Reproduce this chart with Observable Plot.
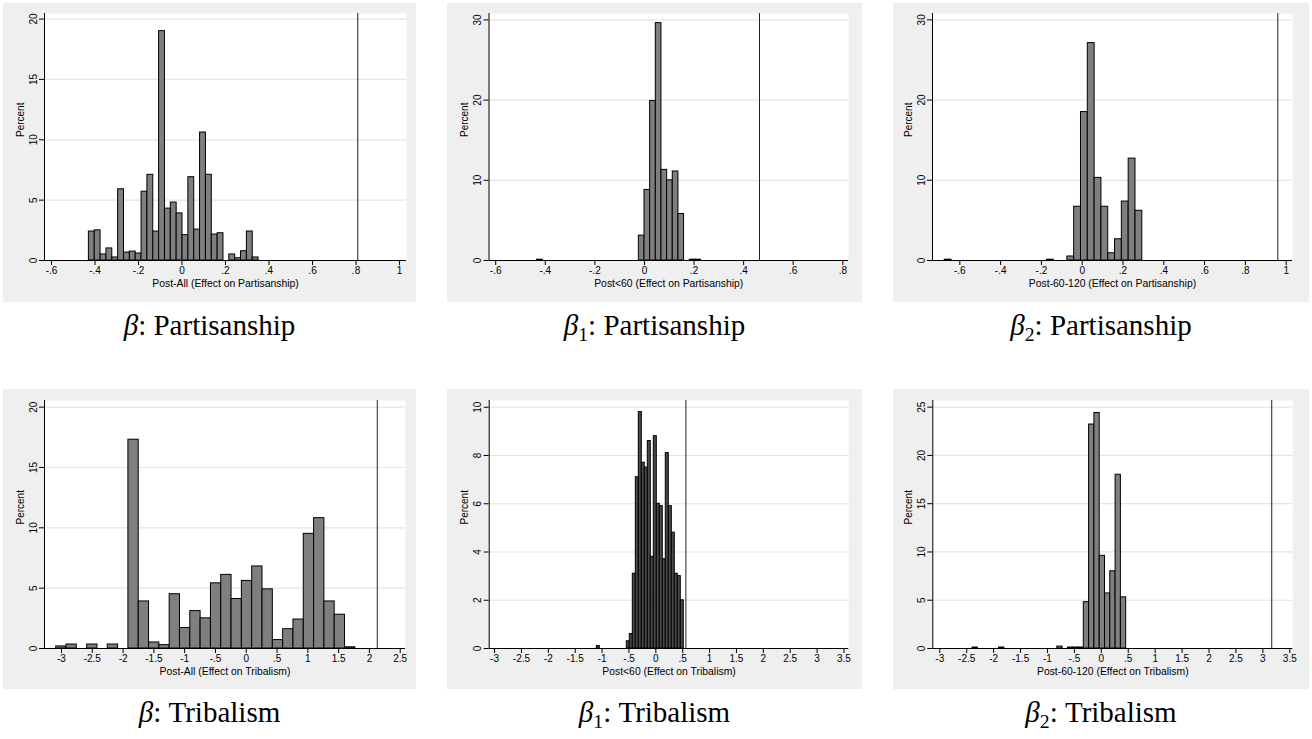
<!DOCTYPE html>
<html><head><meta charset="utf-8">
<script src="https://cdn.jsdelivr.net/npm/d3@7"></script>
<script src="https://cdn.jsdelivr.net/npm/@observablehq/plot@0.6"></script>
<style>
html,body{margin:0;padding:0;background:#fff}
body{width:1312px;height:739px;position:relative;overflow:hidden;font-family:"Liberation Sans",Arial,sans-serif}
.panel{position:absolute}
.cap{position:absolute;text-align:center;font-family:"Liberation Serif",serif;font-size:29px;line-height:36px;height:36px;color:#000;white-space:nowrap}
.cap sub{font-size:0.68em;vertical-align:-0.28em;line-height:0}
</style></head><body>
<script>
// ---------- Data (percent per histogram bin) ----------
// Panel 1: Post-All (Effect on Partisanship)
const p1Start = -0.428, p1Bin = 0.0269;
const p1Pct = [2.4, 2.5, 0.5, 1.0, 0.25, 5.9, 0.66, 0.74, 0.58, 5.7, 7.1, 2.4, 19.0, 4.3, 4.8,
               3.9, 2.1, 6.9, 2.56, 10.6, 7.1, 2.15, 2.26, 0, 0.5, 0.19, 0.77, 2.4, 0.25];
const p1Line = 0.808;
// Panel 2: Post<60 (Effect on Partisanship)
const p2Start = -0.433, p2Bin = 0.0228;
const p2Pct = [0.1, 0, 0, 0, 0, 0, 0, 0, 0, 0, 0, 0, 0, 0, 0, 0, 0, 0,
               3.1, 8.8, 19.9, 29.6, 11.3, 10.0, 11.1, 5.8, 0, 0.1, 0.1];
const p2Line = 0.464;
// Panel 3: Post-60-120 (Effect on Partisanship)
const p3Start = -0.674, p3Bin = 0.0334;
const p3Pct = [0.1, 0, 0, 0, 0, 0, 0, 0, 0, 0, 0, 0, 0, 0, 0, 0.1, 0, 0,
               0.5, 6.7, 18.5, 27.1, 10.3, 6.7, 0.9, 2.65, 7.35, 12.7, 6.2];
const p3Line = 0.959;
// Panel 4: Post-All (Effect on Tribalism)
const p4Start = -3.086, p4Bin = 0.1675;
const p4Pct = [0.17, 0.33, 0, 0.33, 0, 0.33, 0, 17.3, 3.9, 0.5, 0.28, 4.5, 1.7, 3.1, 2.5,
               5.4, 6.1, 4.1, 5.6, 6.8, 4.9, 0.7, 1.6, 2.4, 9.5, 10.8, 3.9, 2.8, 0.1];
const p4Line = 2.128;
// Panel 5: Post<60 (Effect on Tribalism)
const p5Start = -1.098, p5Bin = 0.0558;
const p5Pct = [0.1, 0, 0, 0, 0, 0, 0, 0, 0, 0,
               0.3, 0.6, 3.1, 7.1, 9.8, 7.7, 7.5, 8.6, 3.8, 8.8, 6.0, 5.9, 3.7, 8.1, 5.9, 4.8, 3.1, 3.0, 2.0];
const p5Line = 0.559;
// Panel 6: Post-60-120 (Effect on Tribalism)
const p6Start = -2.392, p6Bin = 0.0984;
const p6Pct = [0.1, 0, 0, 0, 0, 0.1, 0, 0, 0, 0, 0, 0, 0, 0, 0, 0, 0.2, 0, 0.1, 0.1, 0.1,
               4.8, 23.2, 24.4, 9.6, 5.7, 8.0, 18.0, 5.3];
const p6Line = 3.165;

// Tick values and labels
const xTicksPart = [-0.6, -0.4, -0.2, 0, 0.2, 0.4, 0.6, 0.8, 1];
const xLabelsPart = ["-.6", "-.4", "-.2", "0", ".2", ".4", ".6", ".8", "1"];
const xTicksPart2 = [-0.6, -0.4, -0.2, 0, 0.2, 0.4, 0.6, 0.8];
const xLabelsPart2 = ["-.6", "-.4", "-.2", "0", ".2", ".4", ".6", ".8"];
const xTicksTrib = [-3, -2.5, -2, -1.5, -1, -0.5, 0, 0.5, 1, 1.5, 2, 2.5];
const xLabelsTrib = ["-3", "-2.5", "-2", "-1.5", "-1", "-.5", "0", ".5", "1", "1.5", "2", "2.5"];
const xTicksTrib2 = [-3, -2.5, -2, -1.5, -1, -0.5, 0, 0.5, 1, 1.5, 2, 2.5, 3, 3.5];
const xLabelsTrib2 = ["-3", "-2.5", "-2", "-1.5", "-1", "-.5", "0", ".5", "1", "1.5", "2", "2.5", "3", "3.5"];
const yTicks20 = [0, 5, 10, 15, 20];
const yTicks30 = [0, 10, 20, 30];
const yTicks10 = [0, 2, 4, 6, 8, 10];
const yTicks25 = [0, 5, 10, 15, 20, 25];

const xTitles = ["Post-All (Effect on Partisanship)", "Post<60 (Effect on Partisanship)", "Post-60-120 (Effect on Partisanship)",
                 "Post-All (Effect on Tribalism)", "Post<60 (Effect on Tribalism)", "Post-60-120 (Effect on Tribalism)"];
const captions = ["<i>β</i>: Partisanship", "<i>β</i><sub>1</sub>: Partisanship", "<i>β</i><sub>2</sub>: Partisanship",
                  "<i>β</i>: Tribalism", "<i>β</i><sub>1</sub>: Tribalism", "<i>β</i><sub>2</sub>: Tribalism"];

// ---------- Layout ----------
const panels = [
  {box: [3, 3, 413, 299], plot: [44, 406, 13, 260], xd: [-0.632, 1.032], yd: [0, 20.46], start: p1Start, bin: p1Bin, pct: p1Pct, line: p1Line, xt: xTicksPart, xl: xLabelsPart, yt: yTicks20, fill: "#7f7f7f"},
  {box: [447, 3, 415, 299], plot: [488.5, 848, 13, 260], xd: [-0.627, 0.823], yd: [0, 30.8], start: p2Start, bin: p2Bin, pct: p2Pct, line: p2Line, xt: xTicksPart2, xl: xLabelsPart2, yt: yTicks30, fill: "#7f7f7f"},
  {box: [893, 3, 416, 299], plot: [932, 1292, 13, 260], xd: [-0.734, 1.031], yd: [0, 30.79], start: p3Start, bin: p3Bin, pct: p3Pct, line: p3Line, xt: xTicksPart, xl: xLabelsPart, yt: yTicks30, fill: "#7f7f7f"},
  {box: [3, 389, 413, 300], plot: [44, 405, 400, 648], xd: [-3.276, 2.586], yd: [0, 20.55], start: p4Start, bin: p4Bin, pct: p4Pct, line: p4Line, xt: xTicksTrib, xl: xLabelsTrib, yt: yTicks20, fill: "#7f7f7f"},
  {box: [447, 389, 415, 300], plot: [488.7, 848.3, 400, 648], xd: [-3.10, 3.59], yd: [0, 10.28], start: p5Start, bin: p5Bin, pct: p5Pct, line: p5Line, xt: xTicksTrib2, xl: xLabelsTrib2, yt: yTicks10, fill: "#4a4a4a"},
  {box: [893, 389, 416, 300], plot: [932.3, 1292.3, 400, 648], xd: [-3.13, 3.556], yd: [0, 25.69], start: p6Start, bin: p6Bin, pct: p6Pct, line: p6Line, xt: xTicksTrib2, xl: xLabelsTrib2, yt: yTicks25, fill: "#7f7f7f"}
];

const captionRows = [307, 694];

panels.forEach((p, i) => {
  const [L, T, W, H] = p.box;
  const [pl, pr, pt, pb] = p.plot;
  const bins = p.pct.map((v, k) => ({x1: p.start + k * p.bin, x2: p.start + (k + 1) * p.bin, pct: v})).filter(d => d.pct > 0);
  const xlab = new Map(p.xt.map((t, k) => [t, p.xl[k]]));
  const chart = Plot.plot({
    width: W, height: H,
    marginLeft: pl - L, marginRight: L + W - pr, marginTop: pt - T, marginBottom: T + H - pb,
    style: {background: "#efefef", fontFamily: "'Liberation Sans', Arial, sans-serif", fontSize: "10px", color: "#000", overflow: "visible"},
    x: {domain: p.xd},
    y: {domain: p.yd},
    marks: [
      Plot.frame({fill: "white", stroke: "none"}),
      Plot.gridY(p.yt.filter(d => d > 0), {stroke: "#e4e4e4", strokeOpacity: 1, strokeWidth: 1.2}),
      Plot.rectY(bins, {x1: "x1", x2: "x2", y: "pct", fill: p.fill, stroke: "#000", strokeWidth: 1}),
      Plot.ruleX([p.line], {stroke: "#222", strokeWidth: 1}),
      Plot.ruleY([p.yd[0]], {stroke: "#000", strokeWidth: 1}),
      Plot.ruleX([p.xd[0]], {stroke: "#000", strokeWidth: 1}),
      Plot.axisX({ticks: p.xt, tickFormat: d => xlab.get(d), tickSize: 5, tickPadding: 1, label: null, fontSize: 10}),
      Plot.axisY({ticks: p.yt, tickFormat: d => String(d), tickSize: 5, tickPadding: 3, tickRotate: -90, label: null, fontSize: 10}),
      Plot.text([xTitles[i]], {text: d => d, frameAnchor: "bottom", dy: 23, lineAnchor: "middle", fontSize: 10.4}),
      Plot.text(["Percent"], {text: d => d, frameAnchor: "left", dx: -24, rotate: -90, lineAnchor: "middle", fontSize: 10})
    ]
  });
  chart.classList.add("panel");
  chart.style.left = L + "px";
  chart.style.top = T + "px";
  document.body.appendChild(chart);

  const cap = document.createElement("div");
  cap.className = "cap";
  cap.innerHTML = captions[i];
  cap.style.left = L + "px";
  cap.style.width = W + "px";
  cap.style.top = captionRows[i < 3 ? 0 : 1] + "px";
  document.body.appendChild(cap);
});
</script>
</body></html>
